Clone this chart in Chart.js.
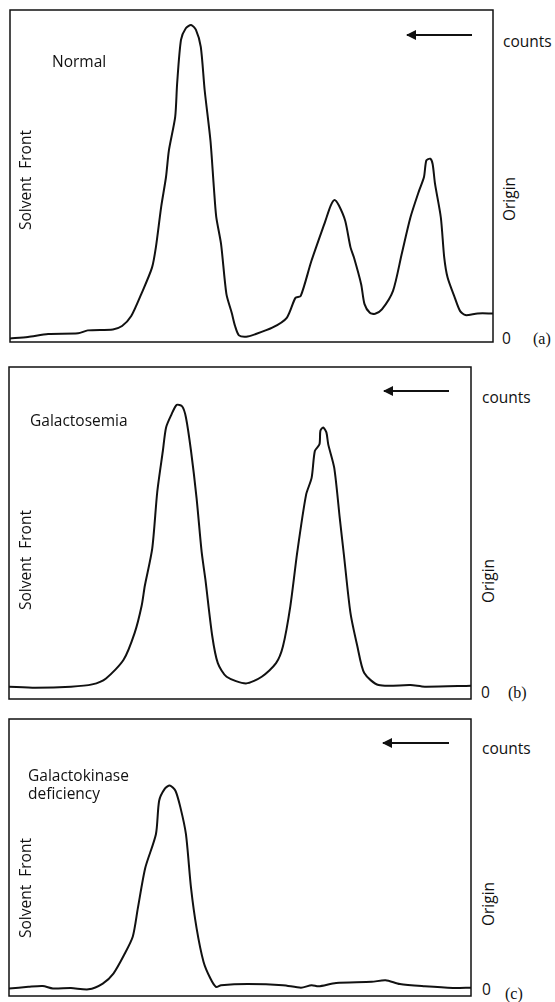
<!DOCTYPE html>
<html>
<head>
<meta charset="utf-8">
<script src="https://cdn.jsdelivr.net/npm/chart.js@4/dist/chart.umd.min.js"></script>
<style>
  html, body { margin:0; padding:0; background:#fff; }
  body { width:555px; height:1002px; position:relative; overflow:hidden; font-family:"Open Sans", "Liberation Sans", sans-serif; color:#111; }
  .t { position:absolute; font-size:15.5px; line-height:1; white-space:nowrap; transform:translate(0,-50%); }
  .s { font-family:"Liberation Serif", "DejaVu Serif", serif; font-size:16px; }
  .r { position:absolute; font-size:15.5px; line-height:1; white-space:nowrap; transform:translate(-50%,-50%) rotate(-90deg); }
  .cv { position:absolute; }
  .arrow { position:absolute; height:2px; background:#111; }
  .arrow::before { content:""; position:absolute; left:-1px; top:-4px; border-right:10px solid #111; border-top:5px solid transparent; border-bottom:5px solid transparent; }
</style>
</head>
<body>
<canvas id="ca" class="cv"></canvas>
<canvas id="cb" class="cv"></canvas>
<canvas id="cc" class="cv"></canvas>

<!-- panel (a) labels -->
<div class="t" style="left:52px; top:62px;">Normal</div>
<div class="r" style="left:26px; top:180px;">Solvent&nbsp;&nbsp;Front</div>
<div class="r" style="left:510px; top:199px;">Origin</div>
<div class="t" style="left:503px; top:42px;">counts</div>
<div class="arrow" style="left:407px; top:34px; width:65px;"></div>
<div class="t" style="left:502px; top:339px;">0</div>
<div class="t s" style="left:533px; top:339px;">(a)</div>

<!-- panel (b) labels -->
<div class="t" style="left:30px; top:421px;">Galactosemia</div>
<div class="r" style="left:26px; top:560px;">Solvent&nbsp;&nbsp;Front</div>
<div class="r" style="left:489px; top:581px;">Origin</div>
<div class="t" style="left:482px; top:398px;">counts</div>
<div class="arrow" style="left:384px; top:390px; width:65px;"></div>
<div class="t" style="left:481px; top:693px;">0</div>
<div class="t s" style="left:508px; top:693px;">(b)</div>

<!-- panel (c) labels -->
<div class="t" style="left:28px; top:776px;">Galactokinase</div>
<div class="t" style="left:28px; top:794px;">deficiency</div>
<div class="r" style="left:26px; top:888px;">Solvent&nbsp;&nbsp;Front</div>
<div class="r" style="left:489px; top:904px;">Origin</div>
<div class="t" style="left:482px; top:749px;">counts</div>
<div class="arrow" style="left:383px; top:742px; width:66px;"></div>
<div class="t" style="left:482px; top:990px;">0</div>
<div class="t s" style="left:505px; top:994px;">(c)</div>

<script>
// Distance along the chromatogram (% of strip, solvent front = 0, origin = 100)
const normalX = [0,3.7,7.9,14.1,16.1,21.3,23.2,25.1,27.2,29.4,30.2,31.3,32.3,32.9,34.2,34.6,35.4,36.4,37.5,38.5,39.5,40.3,41.5,42.2,42.7,43.7,44.8,45.9,46.6,47.4,48.9,50.7,54.3,57.3,59.1,60.2,62.4,65.3,66.4,67.2,68.1,69.4,70.5,71.2,72.7,73.4,74.5,75.6,77.0,79.3,81.1,82.9,84.7,85.7,86.2,87.0,87.5,88.0,89.2,89.9,90.6,92.1,93.2,94.3,96.8,100];
// Counts (% of full scale)
const normalCounts = [1.05,1.5,2.4,2.6,3.5,3.8,4.8,7.8,14.5,22.4,28.5,40.7,49.7,57.7,67.8,77.8,91.0,94.5,95.5,94.0,88.9,75.9,60.7,46.7,37.7,29.5,14.5,8.8,4.8,2.0,1.6,2.3,4.3,7.3,13.3,13.9,24.4,36.5,41.1,42.8,41.1,36.5,28.5,25.5,17.4,11.4,8.8,8.5,9.8,15.4,26.5,37.5,45.6,49.6,54.7,55.2,53.6,47.6,37.5,25.5,19.4,13.3,9.3,8.1,8.6,8.6];

const galactosemiaX = [0,5.7,13.4,18.0,21.0,24.8,27.2,28.7,29.4,31.0,32.1,33.3,34.0,35.2,36.3,37.5,38.3,39.4,40.6,41.7,42.5,44.0,45.2,47.1,51.3,54.7,57.8,59.3,60.9,62.4,64.3,65.5,66.2,67.2,67.4,68.0,68.7,69.1,70.4,71.6,72.5,73.9,75.4,76.9,80.0,86.9,90.0,100];
const galactosemiaCounts = [3.7,3.4,3.7,4.4,6.2,11.8,19.9,28.0,34.1,45.3,62.5,74.7,81.8,85.8,88.6,88.1,84.8,74.7,60.5,44.3,36.1,18.9,10.8,6.7,4.7,6.7,10.8,15.9,28.0,44.3,61.5,66.6,74.7,76.7,80.8,81.8,80.3,76.7,69.6,54.4,43.3,26.0,15.9,7.8,4.2,4.2,3.7,4.0];

const kinaseX = [0,4.2,7.3,9.5,13.4,17.2,20.3,22.6,24.9,26.8,27.9,29.5,31.8,32.5,33.7,34.8,36.0,37.1,38.3,39.4,40.6,42.1,43.6,44.8,45.9,51.7,59.3,63.2,65.5,67.0,70.8,78.5,81.5,84.6,90.0,96.1,100];
const kinaseCounts = [2.7,3.3,3.6,2.7,2.9,2.4,4.5,8.1,14.8,21.5,31.8,46.3,58.4,70.5,74.8,76.0,74.2,68.1,58.4,39.0,24.5,12.4,6.3,3.3,3.9,4.3,3.9,3.0,3.9,3.5,4.7,5.1,5.7,4.3,3.5,2.9,3.0];

const xMin = 0, xMax = 100, yMin = 0, yMax = 100;

const boxPlugin = {
  id: 'box',
  afterDraw(chart) {
    const a = chart.chartArea, ctx = chart.ctx;
    ctx.save();
    ctx.strokeStyle = '#111';
    ctx.lineWidth = 1.5;
    ctx.strokeRect(a.left, a.top, a.right - a.left, a.bottom - a.top);
    ctx.restore();
  }
};

function makeChart(id, box, xs, ys) {
  const pad = 2;
  const cv = document.getElementById(id);
  cv.width = box.w + 2 * pad;
  cv.height = box.h + 2 * pad;
  cv.style.left = (box.l - pad) + 'px';
  cv.style.top = (box.t - pad) + 'px';
  cv.style.width = cv.width + 'px';
  cv.style.height = cv.height + 'px';
  new Chart(cv, {
    type: 'line',
    data: {
      datasets: [{
        data: xs.map((x, i) => ({ x: x, y: ys[i] })),
        borderColor: '#111',
        borderWidth: 2,
        pointRadius: 0,
        tension: 0.25,
        fill: false
      }]
    },
    options: {
      responsive: false,
      animation: false,
      devicePixelRatio: 1,
      layout: { padding: pad },
      plugins: { legend: { display: false }, tooltip: { enabled: false } },
      scales: {
        x: { type: 'linear', min: xMin, max: xMax, display: false },
        y: { type: 'linear', min: yMin, max: yMax, display: false }
      }
    },
    plugins: [boxPlugin]
  });
}

makeChart('ca', { l: 10, t: 10, w: 483, h: 332 }, normalX, normalCounts);
makeChart('cb', { l: 9, t: 367, w: 462, h: 332 }, galactosemiaX, galactosemiaCounts);
makeChart('cc', { l: 9, t: 719, w: 462, h: 277 }, kinaseX, kinaseCounts);
</script>
</body>
</html>
